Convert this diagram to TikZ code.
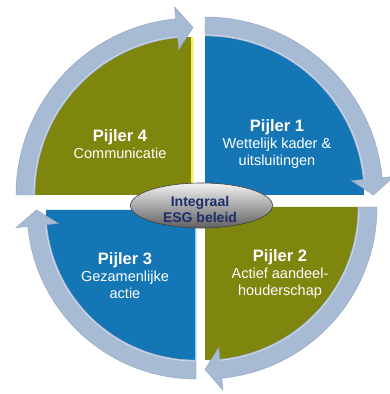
\documentclass[tikz,border=0pt]{standalone}
\usepackage{fontspec}
\setmainfont{Liberation Sans}
\usetikzlibrary{calc,shapes.geometric}

\definecolor{pillarolive}{RGB}{126,134,14}
\definecolor{pillarblue}{RGB}{20,118,181}
\definecolor{ringband}{RGB}{168,187,212}
\definecolor{ringedge}{RGB}{140,160,190}
\definecolor{ringlight}{RGB}{205,218,235}
\definecolor{coretext}{RGB}{30,44,108}

\tikzset{
  ringarrow/.style={fill=ringband, draw=ringedge, line width=0.4pt, line join=miter},
  ringhighlight/.style={draw=ringlight, line width=0.9pt},
  pillartext/.style={text=white, align=center, font=\fontsize{14.5}{17}\selectfont},
  coreshape/.style={ellipse, minimum width=142pt, minimum height=45pt, inner sep=0pt,
    top color=gray!10, middle color=gray!45, bottom color=gray!75!black,
    draw=gray!50!black, line width=0.6pt},
  coretextstyle/.style={text=coretext, align=center, font=\bfseries\fontsize{14}{16}\selectfont}
}

% quarter disc with its right angle at corner #1, radius #2, from angle #3 to #4
\newcommand\quarterdisc[5]{%
  \fill[#5] (#1) -- ([shift={(#3:#2)}]#1) arc[start angle=#3, end angle=#4, radius=#2] -- cycle;
}

% curved band outside a quarter disc (corner #1, radius #2), running clockwise
% from angle #3 down to angle #4, ending in an arrow head
\newcommand\cyclearrow[4]{%
  \pgfmathsetmacro\bandin{#2}%
  \pgfmathsetmacro\bandout{#2+19}%
  \pgfmathsetmacro\bandmid{#2+9.5}%
  \pgfmathsetmacro\headin{#2+9.5-21.5}%
  \pgfmathsetmacro\headout{#2+9.5+21.5}%
  \pgfmathsetmacro\headbase{#4+5.6}%
  \filldraw[ringarrow]
    ([shift={(#3:\bandin)}]#1) arc[start angle=#3, end angle=\headbase, radius=\bandin]
    -- ([shift={(\headbase:\headin)}]#1) -- ([shift={(#4:\bandmid)}]#1)
    -- ([shift={(\headbase:\headout)}]#1)
    -- ([shift={(\headbase:\bandout)}]#1) arc[start angle=\headbase, end angle=#3, radius=\bandout] -- cycle;
  \draw[ringhighlight]
    ([shift={(#3:\bandin+1)}]#1) arc[start angle=#3, end angle=\headbase, radius=\bandin+1];
}

\begin{document}
\begin{tikzpicture}[x=1pt, y=1pt]
  \useasboundingbox (0,0) rectangle (390,394);
  \fill[white] (0,0) rectangle (390,394);

  % corners of the four quarter discs
  \coordinate (c4) at (193,199);
  \coordinate (c1) at (205,199);
  \coordinate (c2) at (205,187);
  \coordinate (c3) at (196,184);

  % the four pillars
  \quarterdisc{c4}{158}{90}{180}{pillarolive}
  \quarterdisc{c1}{159}{0}{90}{pillarblue}
  \quarterdisc{c2}{153}{270}{360}{pillarolive}
  \quarterdisc{c3}{150}{180}{270}{pillarblue}

  % light edges along the vertical sides
  \draw[yellow!85!white, line width=1.3pt] ([shift={(-1,0)}]c4) -- ([shift={(-1,158)}]c4);
  \draw[cyan!55!white, line width=1.2pt] ([shift={(-0.8,0)}]c3) -- ([shift={(-0.8,-150)}]c3);

  % cycle arrows around the pillars
  \cyclearrow{c4}{158}{180}{90}
  \cyclearrow{c1}{159}{90}{0}
  \cyclearrow{c2}{153}{360}{270}
  \cyclearrow{c3}{150}{270}{180}

  % pillar labels
  \node[pillartext] (p4) at (120,249.5)
    {{\bfseries\fontsize{16.5}{17}\selectfont Pijler 4}\\Communicatie};
  \node[pillartext] (p1) at (277,250)
    {{\bfseries\fontsize{16.5}{17}\selectfont Pijler 1}\\Wettelijk kader \&\\uitsluitingen};
  \node[pillartext] (p2) at (280,119.5)
    {{\bfseries\fontsize{16.5}{17}\selectfont Pijler 2}\\Actief aandeel-\\houderschap};
  \node[pillartext] (p3) at (125,118)
    {{\bfseries\fontsize{16.5}{17}\selectfont Pijler 3}\\Gezamenlijke\\actie};

  % central policy
  \node[coreshape] (core) at (201.5,188.5) {};
  \node[coretextstyle] (coretxt) at (200,185) {Integraal\\ESG beleid};
\end{tikzpicture}
\end{document}
